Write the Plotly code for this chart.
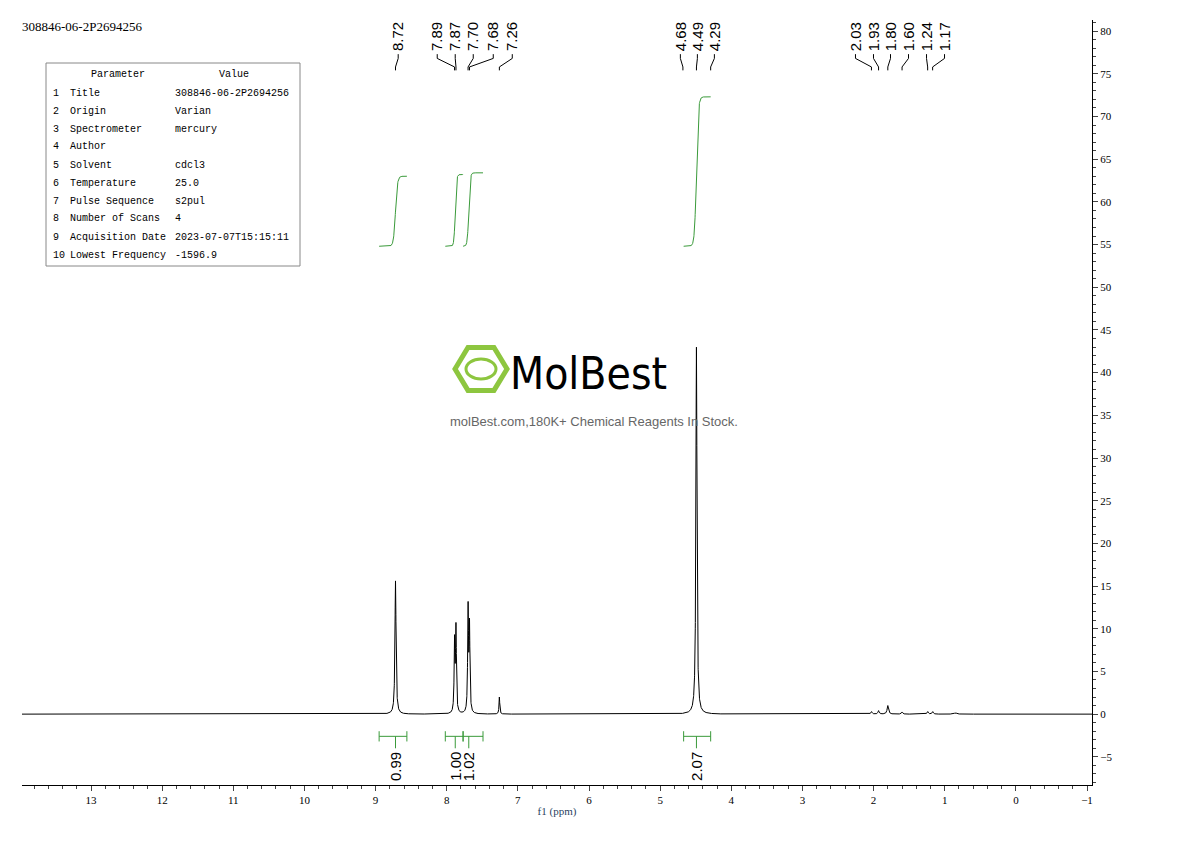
import numpy as np
import plotly.graph_objects as go

title_id = "308846-06-2P2694256"
peak_ppm = [8.72, 7.89, 7.87, 7.70, 7.68, 7.26, 4.49, 2.03, 1.93, 1.80, 1.60, 1.24, 1.17, 0.85]
peak_height = [15.6, 8.2, 9.8, 12.1, 9.9, 2.0, 43.0, 0.3, 0.4, 1.0, 0.25, 0.3, 0.3, 0.15]
peak_width = [0.009, 0.007, 0.007, 0.007, 0.007, 0.006, 0.009, 0.01, 0.01, 0.012, 0.01, 0.01, 0.01, 0.02]

int_start = [8.95, 8.02, 7.77, 4.67]
int_end = [8.56, 7.77, 7.49, 4.29]
int_center = [8.72, 7.88, 7.69, 4.49]
int_top = [63.0, 63.2, 63.4, 72.3]
int_values = ["0.99", "1.00", "1.02", "2.07"]

label_text = ["8.72", "7.89", "7.87", "7.70", "7.68", "7.26", "4.68", "4.49", "4.29",
              "2.03", "1.93", "1.80", "1.60", "1.24", "1.17"]
label_peak = [8.72, 7.89, 7.87, 7.70, 7.68, 7.26, 4.68, 4.49, 4.29, 2.03, 1.93, 1.80, 1.60, 1.24, 1.17]
label_px = [398, 437, 455, 473, 493, 512, 680, 697, 714, 855, 873, 890, 908, 926, 944]

params = ["Title", "Origin", "Spectrometer", "Author", "Solvent", "Temperature",
          "Pulse Sequence", "Number of Scans", "Acquisition Date", "Lowest Frequency"]
values = ["308846-06-2P2694256", "Varian", "mercury", "", "cdcl3", "25.0", "s2pul", "4",
          "2023-07-07T15:15:11", "-1596.9"]

def px2ppm(px):
    return 13 - (px - 91) / 71.1

x = np.linspace(13.97, -1.07, 20000)
y = np.zeros_like(x)
for p, h, w in zip(peak_ppm, peak_height, peak_width):
    y += h / (1 + ((x - p) / w) ** 2)

fig = go.Figure()
fig.add_trace(go.Scatter(x=x, y=y, mode="lines", line=dict(color="black", width=1), hoverinfo="skip"))

green = "#3a9a3a"
for s, e, c, t in zip(int_start, int_end, int_center, int_top):
    xi = np.linspace(s, e, 200)
    k = abs(s - e) / 14
    yi = 54.8 + (t - 54.8) * 0.5 * (1 + np.tanh((c - xi) / k))
    fig.add_trace(go.Scatter(x=xi, y=yi, mode="lines", line=dict(color=green, width=1), hoverinfo="skip"))

shapes = []
annotations = []
for s, e, c, v in zip(int_start, int_end, int_center, int_values):
    yb = -2.6
    shapes.append(dict(type="line", x0=s, x1=e, y0=yb, y1=yb, line=dict(color=green, width=1)))
    for xx in (s, e):
        shapes.append(dict(type="line", x0=xx, x1=xx, y0=yb - 0.6, y1=yb + 0.6, line=dict(color=green, width=1)))
    shapes.append(dict(type="line", x0=c, x1=c, y0=yb, y1=yb - 1.4, line=dict(color=green, width=1)))
    annotations.append(dict(x=c, y=yb - 1.6, text=v, textangle=-90, showarrow=False, yanchor="top",
                            font=dict(family="Liberation Sans", size=15, color="black")))

for t, p, px in zip(label_text, label_peak, label_px):
    lx = px2ppm(px)
    annotations.append(dict(x=lx, y=77.4, text=t, textangle=-90, showarrow=False, yanchor="bottom",
                            font=dict(family="Liberation Sans", size=15, color="black")))
    shapes.append(dict(type="path", path=f"M {lx} 77.3 L {lx} 76.8 L {p} 75.8 L {p} 75.4",
                       line=dict(color="black", width=1)))

def px_x(v): return (v - 22) / 1070
def px_y(v): return (785 - v) / 765

tx0, tx1, ty0, ty1 = 46, 300, 63, 266
shapes.append(dict(type="rect", xref="paper", yref="paper", x0=px_x(tx0), x1=px_x(tx1),
                   y0=px_y(ty1), y1=px_y(ty0), line=dict(color="#888", width=1), fillcolor="white"))
fnt = dict(family="Liberation Mono", size=10, color="black")
rows = [("", "Parameter", "Value")] + [(str(i+1), a, b) for i, (a, b) in enumerate(zip(params, values))]
def ann(xp, yp, text, xa="left", font=fnt):
    annotations.append(dict(xref="paper", yref="paper", x=xp, y=yp, text=text, showarrow=False,
                            xanchor=xa, yanchor="middle", font=font))
for i, (n, a, b) in enumerate(rows):
    yp = px_y(75 + i * 18)
    if i == 0:
        ann(px_x(118), yp, a, "center")
        ann(px_x(234), yp, b, "center")
    else:
        ann(px_x(51), yp, n)
        ann(px_x(68), yp, a)
        ann(px_x(173), yp, b)

ann(px_x(20), px_y(27), title_id, font=dict(family="Liberation Serif", size=13, color="black"))

cx, cy, r = 481, 369, 26
pts = [(cx + r*np.cos(np.radians(a)), cy + r*np.sin(np.radians(a))*0.95) for a in range(0, 360, 60)]
path = "M " + " L ".join(f"{px_x(p[0]):.4f} {px_y(p[1]):.4f}" for p in pts) + " Z"
shapes.append(dict(type="path", xref="paper", yref="paper", path=path, line=dict(color="#8dc63f", width=5)))
shapes.append(dict(type="circle", xref="paper", yref="paper", x0=px_x(cx-15), x1=px_x(cx+15),
                   y0=px_y(cy+10), y1=px_y(cy-10), line=dict(color="#8dc63f", width=3)))
ann(px_x(508), px_y(373), "MolBest", font=dict(family="DejaVu Sans Condensed", size=44, color="black"))
ann(px_x(594), px_y(421), "molBest.com,180K+ Chemical Reagents In Stock.", "center",
    font=dict(family="Liberation Sans", size=13, color="#666"))

axfont = dict(family="Liberation Serif", size=11, color="black")
fig.update_layout(
    width=1190, height=841, margin=dict(l=14, r=106, t=12, b=64),
    plot_bgcolor="white", paper_bgcolor="white", showlegend=False,
    shapes=shapes, annotations=annotations,
    xaxis=dict(range=[13.97, -1.07], tickmode="array", tickvals=list(range(13, -2, -1)),
               ticktext=[str(v) if v >= 0 else "\u22121" for v in range(13, -2, -1)],
               ticks="outside", ticklen=5, showgrid=False, zeroline=False, showline=True,
               linecolor="black", tickfont=axfont, minor=dict(dtick=0.2, ticks="outside", ticklen=3),
               title=dict(text="f1 (ppm)", font=dict(family="Liberation Serif", size=11), standoff=2)),
    yaxis=dict(range=[-8.3, 81.3], side="right", tickmode="array", tickvals=list(range(-5, 81, 5)),
               ticktext=["\u22125"] + [str(v) for v in range(0, 81, 5)],
               ticks="outside", ticklen=5, showgrid=False, zeroline=False, showline=True,
               linecolor="black", tickfont=axfont, minor=dict(dtick=1, ticks="outside", ticklen=3)),
)
fig.write_html("out.html")
